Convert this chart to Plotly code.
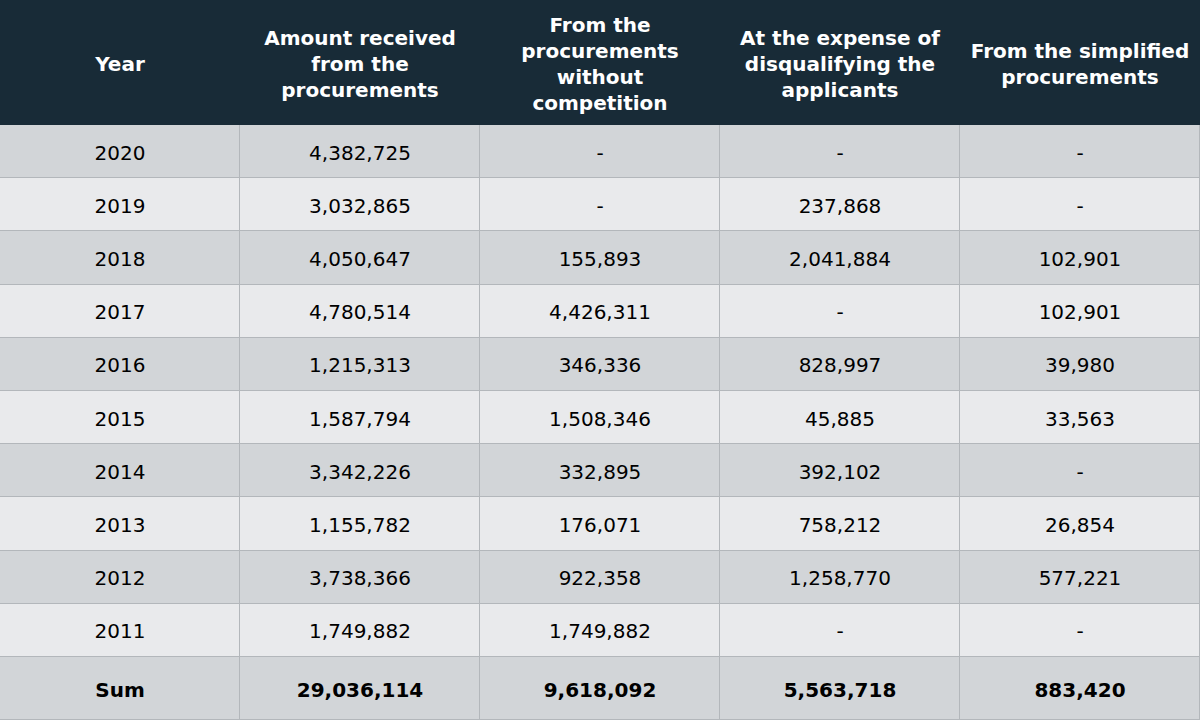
import numpy as np
import plotly.graph_objects as go

years = ["2020", "2019", "2018", "2017", "2016", "2015", "2014", "2013", "2012", "2011"]
amount_received = [4382725, 3032865, 4050647, 4780514, 1215313, 1587794, 3342226, 1155782, 3738366, 1749882]
without_competition = [None, None, 155893, 4426311, 346336, 1508346, 332895, 176071, 922358, 1749882]
disqualifying = [None, 237868, 2041884, None, 828997, 45885, 392102, 758212, 1258770, None]
simplified = [None, None, 102901, 102901, 39980, 33563, None, 26854, 577221, None]
sum_label = "Sum"
sums = [29036114, 9618092, 5563718, 883420]

headers = [
    "Year",
    "Amount received<br>from the<br>procurements",
    "From the<br>procurements<br>without<br>competition",
    "At the expense of<br>disqualifying the<br>applicants",
    "From the simplified<br>procurements",
]

# layout sizes (px)
W, H = 1200, 720
HEADER_H = 125
ROW_H = 53.2
SUM_H = 63
TEXT_DY = 3  # nudge text down to sit in the middle of the cell

HEADER_BG = "#182b37"
ROW_DARK = "#d2d5d8"
ROW_LIGHT = "#e9eaec"
GRID = "#b3b7bb"
FONT = "DejaVu Sans"


def fmt(v):
    return "-" if v is None else f"{v:,}"


n_cols = len(headers)
n_body = len(years)
body_cols = [years] + [[fmt(v) for v in s] for s in [amount_received, without_competition, disqualifying, simplified]]
sum_row = [sum_label] + [fmt(v) for v in sums]

# row edges (y grows downward)
row_heights = [ROW_H] * n_body + [SUM_H]
y_edges = np.concatenate([[HEADER_H], HEADER_H + np.cumsum(row_heights)])
y_mid = (y_edges[:-1] + y_edges[1:]) / 2 + TEXT_DY
x_edges = np.arange(n_cols + 1)
x_mid = x_edges[:-1] + 0.5

z_body = [[i % 2] * n_cols for i in range(n_body + 1)]

fig = go.Figure()

# header block
fig.add_trace(go.Heatmap(
    z=[[0]], x=[0, n_cols], y=[0, HEADER_H],
    colorscale=[[0, HEADER_BG], [1, HEADER_BG]],
    showscale=False, hoverinfo="skip",
))

# body cells
fig.add_trace(go.Heatmap(
    z=z_body, x=x_edges, y=y_edges,
    zmin=0, zmax=1,
    colorscale=[[0, ROW_DARK], [1, ROW_LIGHT]],
    xgap=1, ygap=1,
    showscale=False, hoverinfo="skip",
))

# header text
fig.add_trace(go.Scatter(
    x=x_mid, y=[HEADER_H / 2 + TEXT_DY] * n_cols,
    text=[f"<b>{h}</b>" for h in headers],
    mode="text", textposition="middle center",
    textfont=dict(family=FONT, size=20, color="white"),
    hoverinfo="skip",
))

# body text
bx, by, bt = [], [], []
for c in range(n_cols):
    for r in range(n_body):
        bx.append(x_mid[c])
        by.append(y_mid[r])
        bt.append(body_cols[c][r])
fig.add_trace(go.Scatter(
    x=bx, y=by, text=bt,
    mode="text", textposition="middle center",
    textfont=dict(family=FONT, size=20, color="black"),
    hoverinfo="skip",
))

# sum row text
fig.add_trace(go.Scatter(
    x=x_mid, y=[y_mid[-1]] * n_cols,
    text=[f"<b>{s}</b>" for s in sum_row],
    mode="text", textposition="middle center",
    textfont=dict(family=FONT, size=20, color="black"),
    hoverinfo="skip",
))

fig.update_xaxes(range=[0, n_cols], visible=False, fixedrange=True)
fig.update_yaxes(range=[H, 0], visible=False, fixedrange=True)
fig.update_layout(
    width=W,
    height=H,
    margin=dict(l=0, r=0, t=0, b=0),
    paper_bgcolor="white",
    plot_bgcolor=GRID,
    showlegend=False,
)

fig.write_html(
    "out.html",
    config={"displayModeBar": False},
    post_script="document.body.style.margin='0px';",
)
